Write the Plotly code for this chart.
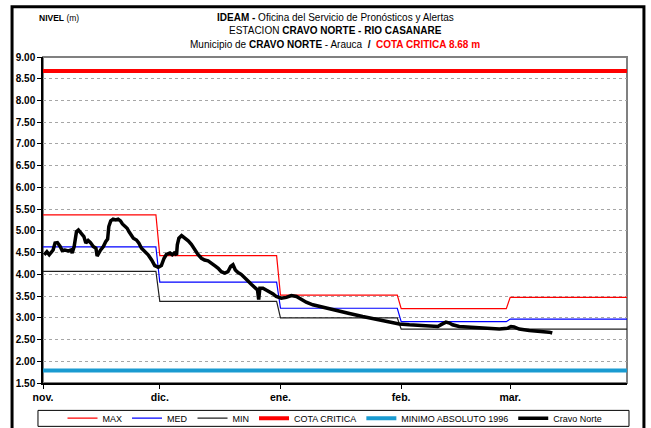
import pandas as pd
import plotly.graph_objects as go

# Monthly reference levels (m) for the station
month_starts = ["2018-11-01", "2018-12-01", "2019-01-01", "2019-02-01", "2019-03-01"]
month_labels = ["nov.", "dic.", "ene.", "feb.", "mar."]
season_end = "2019-03-31"
nivel_max = [5.37, 4.43, 3.52, 3.21, 3.47]
nivel_med = [4.63, 3.82, 3.22, 2.91, 2.97]
nivel_min = [4.07, 3.38, 3.00, 2.74, 2.74]

cota_critica = 8.68
minimo_1996 = 1.79

# Level axis ticks (m)
level_ticks = [1.5, 2.0, 2.5, 3.0, 3.5, 4.0, 4.5, 5.0, 5.5, 6.0, 6.5, 7.0, 7.5, 8.0, 8.5, 9.0]

# Observed level at Cravo Norte: days elapsed since 1 Nov and level (m)
obs_days = [0.3, 1.0, 1.6, 2.2, 2.6, 3.1, 3.7, 4.4, 4.9, 5.6, 6.5, 7.2, 7.5, 8.0, 8.6,
            9.1, 9.9, 10.5, 11.0, 11.6, 12.2, 12.9, 13.6, 13.9, 14.8, 15.5, 16.1, 16.6,
            16.9, 17.4, 18.0, 18.7, 19.3, 19.9, 20.4, 21.0, 21.6, 22.1, 22.7, 23.2, 24.0,
            24.6, 25.3, 26.2, 27.0, 27.9, 28.7, 29.6, 30.4, 31.1, 31.7, 32.6, 33.2, 33.7,
            34.3, 34.5, 34.9, 35.6, 36.4, 37.3, 38.1, 39.0, 39.8, 40.7, 41.5, 42.4, 43.3,
            44.1, 45.0, 45.8, 46.7, 47.5, 48.2, 48.8, 49.4, 50.1, 50.9, 51.8, 52.6, 53.5,
            54.4, 55.1, 55.4, 55.7, 56.5, 57.4, 58.2, 59.1, 59.9, 61.2, 62.5, 63.8, 65.1,
            66.3, 67.6, 69.3, 71.9, 75.3, 78.7, 82.1, 85.6, 89.0, 91.5, 94.1, 96.7, 99.2,
            101.4, 102.6, 103.5, 104.4, 105.2, 106.9, 109.5, 112.1, 114.6, 117.2, 119.3,
            120.2, 121.0, 122.3, 124.9, 127.4, 130.0, 130.8]
obs_level = [4.45, 4.52, 4.45, 4.52, 4.56, 4.72, 4.73, 4.64, 4.55, 4.56, 4.54, 4.56, 4.49,
             4.64, 4.98, 5.02, 4.94, 4.87, 4.72, 4.78, 4.73, 4.64, 4.60, 4.42, 4.56, 4.64,
             4.75, 4.81, 5.10, 5.23, 5.27, 5.25, 5.27, 5.23, 5.16, 5.10, 5.06, 4.98, 4.91,
             4.83, 4.79, 4.72, 4.60, 4.52, 4.45, 4.33, 4.20, 4.16, 4.20, 4.37, 4.46, 4.49,
             4.45, 4.49, 4.45, 4.68, 4.83, 4.89, 4.84, 4.77, 4.69, 4.56, 4.46, 4.37, 4.33,
             4.31, 4.26, 4.20, 4.14, 4.06, 4.03, 4.06, 4.18, 4.22, 4.10, 4.04, 4.00, 3.91,
             3.85, 3.77, 3.70, 3.64, 3.42, 3.68, 3.68, 3.64, 3.59, 3.55, 3.49, 3.45, 3.47,
             3.51, 3.49, 3.42, 3.36, 3.30, 3.24, 3.17, 3.10, 3.03, 2.97, 2.92, 2.86, 2.84,
             2.82, 2.80, 2.80, 2.86, 2.90, 2.88, 2.84, 2.80, 2.78, 2.76, 2.74, 2.74, 2.76,
             2.80, 2.79, 2.74, 2.71, 2.70, 2.67, 2.65]

start = pd.Timestamp(month_starts[0])
end = pd.Timestamp(season_end)
obs_time = start + pd.to_timedelta(obs_days, unit="D")

# Monthly values held from the first to the last day of each month
bounds = [pd.Timestamp(d) for d in month_starts] + [end + pd.Timedelta(days=1)]


def monthly_steps(values):
    xs, ys = [], []
    for i, v in enumerate(values):
        last_day = min(bounds[i + 1] - pd.Timedelta(days=1), end)
        xs += [bounds[i], last_day]
        ys += [v, v]
    return xs, ys


NARROW = "Liberation Sans Narrow, Arial Narrow, Liberation Sans, Arial, sans-serif"
SANS = "Liberation Sans, Arial, sans-serif"

fig = go.Figure()
for name, vals, color in [("MAX", nivel_max, "#ff0000"),
                          ("MED", nivel_med, "#0000ff"),
                          ("MIN", nivel_min, "#202020")]:
    sx, sy = monthly_steps(vals)
    fig.add_trace(go.Scatter(x=sx, y=sy, mode="lines", name=name,
                             line=dict(color=color, width=1.2)))

fig.add_trace(go.Scatter(x=[start, end], y=[cota_critica, cota_critica], mode="lines",
                         name="COTA CRITICA", line=dict(color="#ff0000", width=4)))
fig.add_trace(go.Scatter(x=[start, end], y=[minimo_1996, minimo_1996], mode="lines",
                         name="MINIMO ABSOLUTO 1996", line=dict(color="#1a9bd1", width=4)))
fig.add_trace(go.Scatter(x=obs_time, y=obs_level, mode="lines", name="Cravo Norte",
                         line=dict(color="#000000", width=3.5)))

fig.update_layout(
    width=651, height=428,
    margin=dict(l=43, r=24, t=57, b=45, autoexpand=False),
    paper_bgcolor="white", plot_bgcolor="white",
    font=dict(family=SANS, color="#000000"),
    showlegend=True,
    legend=dict(orientation="h", x=0.5, xanchor="center", y=-0.108, yanchor="middle",
                font=dict(family=NARROW, size=9), bgcolor="rgba(0,0,0,0)",
                tracegroupgap=0, itemwidth=30),
    xaxis=dict(type="date", range=[start, end], showgrid=False,
               tickmode="array", tickvals=[pd.Timestamp(d) for d in month_starts],
               ticktext=[f"<b>{m}</b>" for m in month_labels],
               ticks="outside", ticklen=4, tickcolor="#000000",
               showline=True, linecolor="#000000", linewidth=1.5,
               tickfont=dict(family=SANS, size=10.5), zeroline=False),
    yaxis=dict(range=[1.5, 9.0], tickmode="array", tickvals=level_ticks,
               ticktext=[f"<b>{v:.2f}</b>" for v in level_ticks],
               showgrid=True, gridcolor="#a6a6a6", griddash="dot", gridwidth=1,
               ticks="outside", ticklen=4, tickcolor="#000000",
               showline=True, linecolor="#000000", linewidth=1.5,
               tickfont=dict(family=SANS, size=10), zeroline=False),
)

# Plot-area frame (top and right in grey), outer chart frame and legend box
fig.add_shape(type="rect", xref="paper", yref="paper", x0=0, x1=1, y0=0, y1=1,
              line=dict(color="#808080", width=2), layer="below")
fig.add_shape(type="rect", xref="paper", yref="paper", x0=-0.053, x1=1.029,
              y0=-0.16, y1=1.154, line=dict(color="#000000", width=3))
fig.add_shape(type="rect", xref="paper", yref="paper", x0=-0.0086, x1=1.0034,
              y0=-0.133, y1=-0.084, line=dict(color="#000000", width=1))

title_lines = [
    "<b>IDEAM -</b> Oficina del Servicio de Pronósticos y Alertas",
    "ESTACION <b>CRAVO NORTE - RIO CASANARE</b>",
    f"Municipio de <b>CRAVO NORTE</b> - Arauca  <b>/</b>  "
    f"<span style='color:#ff0000'><b>COTA CRITICA {cota_critica:.2f} m</b></span>",
]
for line, ypos in zip(title_lines, [1.121, 1.081, 1.038]):
    fig.add_annotation(text=line, xref="paper", yref="paper", x=0.5, y=ypos,
                       xanchor="center", yanchor="middle", showarrow=False,
                       font=dict(family=NARROW, size=10, color="#000000"))

fig.add_annotation(text="<b>NIVEL</b> (m)", xref="paper", yref="paper", x=-0.010, y=1.121,
                   xanchor="left", yanchor="middle", showarrow=False,
                   font=dict(family=NARROW, size=8.5, color="#000000"))

fig.write_html("out.html")
